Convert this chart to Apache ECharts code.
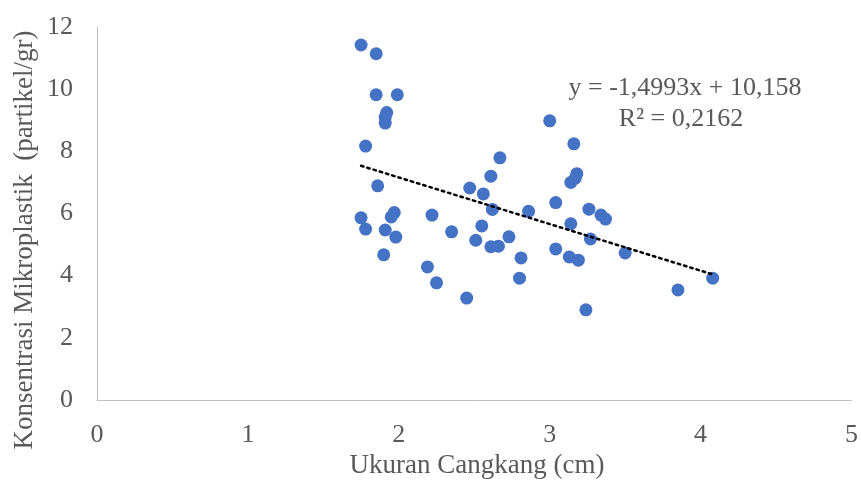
<!DOCTYPE html>
<html>
<head>
<meta charset="utf-8">
<script src="https://cdn.jsdelivr.net/npm/echarts@6/dist/echarts.min.js"></script>
<style>
html,body{margin:0;padding:0;background:#fff;}
#c{width:861px;height:484px;}
</style>
</head>
<body>
<div id="c"></div>
<script>
// Data
const xValues = [1.75,1.85,1.85,1.99,1.92,1.91,1.91,1.78,1.86,1.75,1.78,1.91,1.98,1.97,1.95,1.90,
  2.22,2.35,2.19,2.25,2.45,2.47,2.56,2.62,2.55,2.51,2.61,2.66,2.73,2.81,2.80,2.86,2.67,2.61,
  3.16,3.18,3.14,3.17,3.04,3.26,3.34,3.37,3.14,3.27,3.04,3.13,3.19,3.50,3.24,3.00,3.85,4.08];
const yValues = [11.42,11.14,9.82,9.82,9.25,9.10,8.91,8.17,6.89,5.86,5.50,5.47,5.24,6.03,5.89,4.67,
  5.95,5.41,4.28,3.77,3.28,6.82,6.63,6.13,5.60,5.14,4.93,4.95,5.25,4.57,3.92,6.07,7.79,7.20,
  8.24,7.28,7.00,7.14,6.35,6.14,5.95,5.82,5.67,5.18,4.86,4.60,4.50,4.73,2.90,8.98,3.54,3.92];
const xTicks = [0,1,2,3,4,5];
const yTicks = [0,2,4,6,8,10,12];
const trendSlope = -1.4993;
const trendIntercept = 10.158;
const equationText = 'y = -1,4993x + 10,158';
const r2Text = 'R² = 0,2162';
const xTitle = 'Ukuran Cangkang (cm)';
const yTitle = 'Konsentrasi Mikroplastik  (partikel/gr)';

const points = xValues.map((x, i) => [x, yValues[i]]);
const xMin = Math.min(...xValues), xMax = Math.max(...xValues);
const trend = [[xMin, trendSlope * xMin + trendIntercept], [xMax, trendSlope * xMax + trendIntercept]];

const font = '"Liberation Serif","Times New Roman",serif';
const txt = '#595959';
const chart = echarts.init(document.getElementById('c'));
chart.setOption({
  animation: false,
  grid: {left: 97, right: 5, top: 27, bottom: 84, containLabel: false},
  xAxis: {
    type: 'value', min: xTicks[0], max: xTicks[xTicks.length - 1], interval: 1,
    axisLine: {show: true, lineStyle: {color: '#bfbfbf', width: 1}},
    axisTick: {show: false}, splitLine: {show: false},
    axisLabel: {color: txt, fontFamily: font, fontSize: 26, margin: 22}
  },
  yAxis: {
    type: 'value', min: yTicks[0], max: yTicks[yTicks.length - 1], interval: 2,
    axisLine: {show: true, lineStyle: {color: '#bfbfbf', width: 1}},
    axisTick: {show: false}, splitLine: {show: false},
    axisLabel: {color: txt, fontFamily: font, fontSize: 26, margin: 24}
  },
  graphic: [
    {type: 'text', x: 477, y: 466, style: {text: xTitle, font: '27px ' + font, fill: txt, textAlign: 'center', textVerticalAlign: 'middle'}},
    {type: 'text', rotation: Math.PI / 2, x: 25, y: 240, style: {text: yTitle, font: '27px ' + font, fill: txt, textAlign: 'center', textVerticalAlign: 'middle'}},
    {type: 'text', x: 685, y: 88, style: {text: equationText, font: '26px ' + font, fill: txt, textAlign: 'center', textVerticalAlign: 'middle'}},
    {type: 'text', x: 681, y: 119, style: {text: r2Text, font: '26px ' + font, fill: txt, textAlign: 'center', textVerticalAlign: 'middle'}}
  ],
  series: [
    {type: 'scatter', data: points, symbolSize: 13, itemStyle: {color: '#4472C4', opacity: 1}, z: 2},
    {type: 'line', data: trend, symbol: 'none', z: 3,
     lineStyle: {color: '#000', width: 2.5, type: [2.5, 4], cap: 'round'}}
  ]
});
</script>
</body>
</html>
